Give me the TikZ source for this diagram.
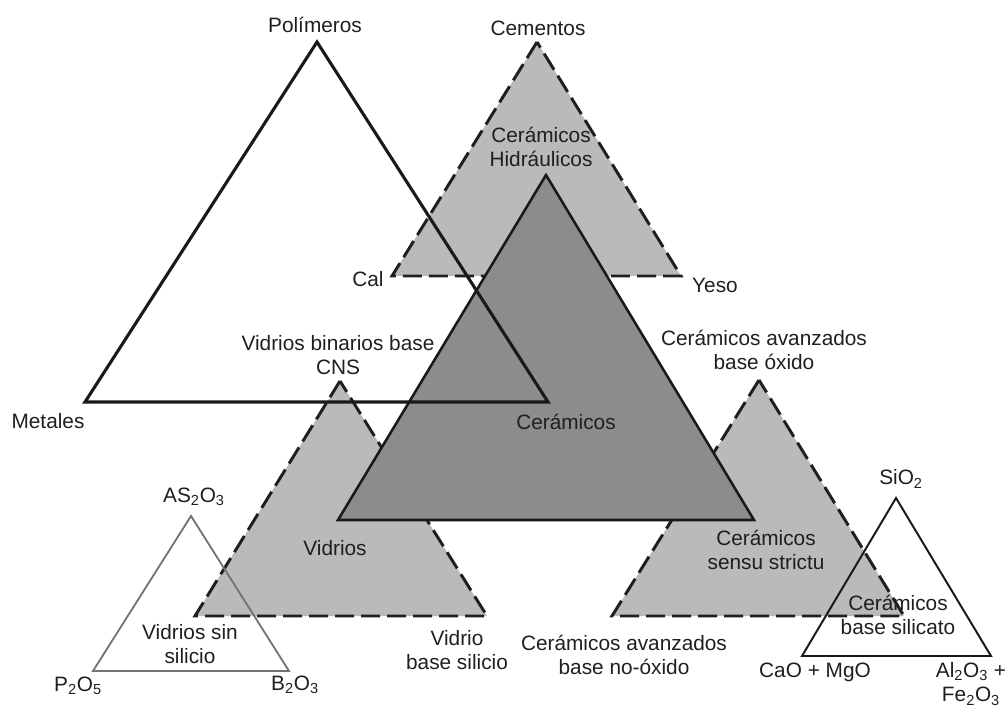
\documentclass[tikz,border=0pt]{standalone}
\usepackage{fontspec}
\setmainfont{Liberation Sans}
\usepackage{xcolor}
\usepackage{tikz}
\definecolor{lightfill}{gray}{0.73}
\definecolor{darkfill}{gray}{0.55}

\begin{document}
\begin{tikzpicture}[x=0.025cm, y=-0.025cm,
    lbl/.style={align=center, inner sep=0pt, font=\fontsize{14.8}{17.2}\selectfont, text=black!88},
    solidtri/.style={line width=2pt, line join=miter, draw=black!90},
    dashtri/.style={line width=2.1pt, line join=miter, dash pattern=on 13.5pt off 5pt, draw=black!88, fill=lightfill},
    smalltri/.style={line width=1.3pt, line join=miter}
]
    \useasboundingbox (0,0) rectangle (1008,708);

    % vertices
    \coordinate (polT) at (317,42);  \coordinate (polL) at (85,402);  \coordinate (polR) at (548,402);
    \coordinate (cemT) at (537,42);  \coordinate (cemL) at (392,276); \coordinate (cemR) at (681,276);
    \coordinate (cerT) at (546,175); \coordinate (cerL) at (338,520); \coordinate (cerR) at (754,520);
    \coordinate (vidT) at (340,381); \coordinate (vidL) at (195,616); \coordinate (vidR) at (487,616);
    \coordinate (avzT) at (759,380); \coordinate (avzL) at (612,616); \coordinate (avzR) at (904,616);
    \coordinate (vssT) at (191,516); \coordinate (vssL) at (93,671);  \coordinate (vssR) at (289,671);
    \coordinate (silT) at (896,498); \coordinate (silL) at (802,656); \coordinate (silR) at (991,656);

    % triangles
    \draw[dashtri] (cemT) -- (cemL) -- (cemR) -- cycle;
    \draw[dashtri] (vidT) -- (vidL) -- (vidR) -- cycle;
    \draw[dashtri] (avzT) -- (avzL) -- (avzR) -- cycle;
    \filldraw[solidtri, fill=darkfill, line width=1.8pt] (cerT) -- (cerL) -- (cerR) -- cycle;
    \draw[solidtri, line width=2.2pt] (polT) -- (polL) -- (polR) -- cycle;
    \draw[smalltri, draw=black!55] (vssT) -- (vssL) -- (vssR) -- cycle;
    \draw[smalltri, draw=black!90, line width=1.4pt] (silT) -- (silL) -- (silR) -- cycle;

    % labels
    \node[lbl] (pol) at (315,25) {Polímeros};
    \node[lbl] (cem) at (538,28) {Cementos};
    \node[lbl] (hid) at (541,147) {Cerámicos\\Hidráulicos};
    \node[lbl] (cal) at (368,279) {Cal};
    \node[lbl] (yes) at (715,285) {Yeso};
    \node[lbl] (cns) at (338,355) {Vidrios binarios base\\CNS};
    \node[lbl] (met) at (48,421) {Metales};
    \node[lbl] (cer) at (566,422) {Cerámicos};
    \node[lbl] (oxi) at (764,350) {Cerámicos avanzados\\base óxido};
    \node[lbl] (sio) at (901,479) {SiO\textsubscript{2}};
    \node[lbl] (aso) at (194,497) {AS\textsubscript{2}O\textsubscript{3}};
    \node[lbl] (vid) at (335,548) {Vidrios};
    \node[lbl] (sen) at (766,550) {Cerámicos\\sensu strictu};
    \node[lbl] (sil) at (898,615) {Cerámicos\\base silicato};
    \node[lbl] (vss) at (190,644) {Vidrios sin\\silicio};
    \node[lbl] (vbs) at (457,650) {Vidrio\\base silicio};
    \node[lbl] (nox) at (624,655) {Cerámicos avanzados\\base no-óxido};
    \node[lbl] (pos) at (78,686) {P\textsubscript{2}O\textsubscript{5}};
    \node[lbl] (bos) at (295,685) {B\textsubscript{2}O\textsubscript{3}};
    \node[lbl] (cao) at (815,672) {CaO + MgO};
    \node[lbl] (alo) at (971,684) {Al\textsubscript{2}O\textsubscript{3} +\\Fe\textsubscript{2}O\textsubscript{3}};

\end{tikzpicture}
\end{document}
